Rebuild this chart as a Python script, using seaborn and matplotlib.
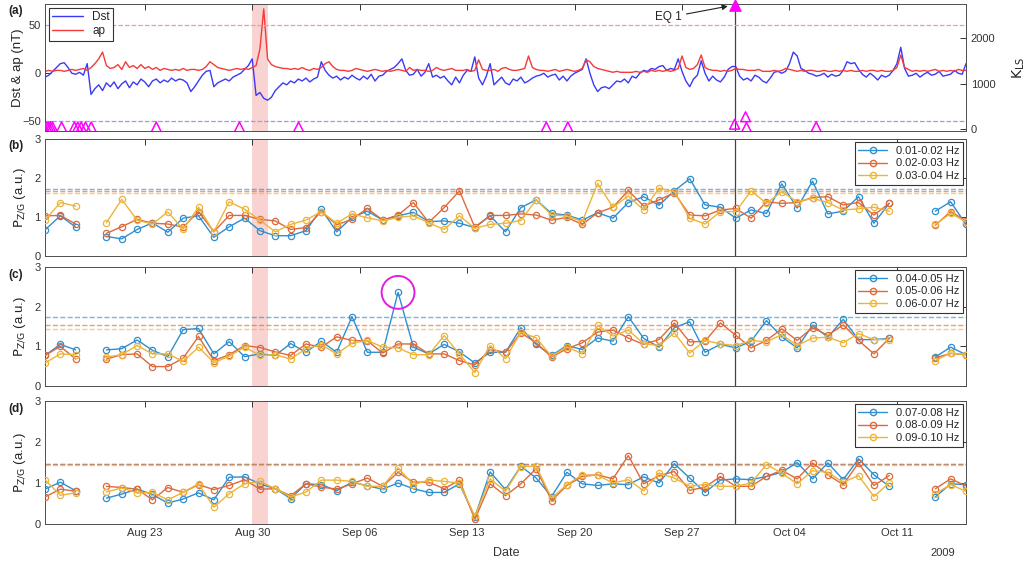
import numpy as np
import pandas as pd
import matplotlib
matplotlib.use('Agg')
import matplotlib.pyplot as plt
import matplotlib.dates as mdates
from matplotlib.lines import Line2D
import seaborn as sns

sns.set_theme(style='white')
plt.rcParams['font.family'] = ['Liberation Sans', 'DejaVu Sans']

# ---------------- data ----------------
start = pd.Timestamp('2009-08-16 12:00')
days = pd.date_range(start, periods=61, freq='D')
times6h = pd.date_range(start, periods=241, freq='6h')

dst = [-4, -2, 2, 6, 10, 11, 6, 0, -1, 1, -2, 10, -22, -16, -12, -18,
       -10, -14, -9, -16, -11, -8, -15, -9, -12, -6, -9, -14, -8, -6, -10, -7,
       -9, -5, -8, -6, -7, -10, -19, -14, -8, -2, 2, 3, -14, -10, -8, -6,
       -8, -4, -2, 0, 4, 8, 15, -23, -20, -26, -28, -25, -18, -14, -10, -12,
       -8, -10, -6, -8, -5, -9, -6, -4, 12, 3, -2, -5, -3, -7, -4, -6,
       -2, -5, -7, -3, -6, -1, -8, -3, -2, 2, 4, 6, 10, 15, 3, -2,
       -1, 4, -3, 1, 10, -4, -2, -5, -3, -8, -12, -4, -10, -2, 3, 2,
       17, -5, -12, -3, 10, -12, -8, -4, -10, -12, -6, -8, -4, -10, -8, -5,
       -3, -2, 0, -4, -2, -1, -7, -3, -8, -3, 0, 2, 4, 15, 0, -12,
       -19, -15, -14, -16, -12, -8, -9, -6, -10, -3, -5, 0, 3, 2, 5, 4,
       7, 8, 3, 5, 4, 15, 2, -8, -14, -6, -2, 13, 0, -8, -3, -7,
       -9, -4, 4, 7, 7, -3, -7, -5, -8, -2, -4, -8, -10, -5, 1, 2,
       0, 2, 10, 22, 18, 5, 3, 0, -1, -3, -2, 0, -4, -1, -3, -2,
       3, 12, 10, 11, 4, -1, -4, 0, -3, -7, -2, -4, -2, 3, 10, 27,
       5, -3, -2, 0, -4, -1, 1, -2, -1, 2, -3, -2, -1, 3, 0, -1, 10]

ap = [2, 3, 2, 3, 3, 2, 3, 4, 3, 4, 5, 3, 6, 10, 15, 22,
      8, 5, 6, 9, 4, 12, 6, 8, 5, 9, 5, 7, 4, 6, 3, 5,
      4, 3, 4, 3, 5, 3, 4, 4, 3, 4, 7, 12, 9, 6, 5, 4,
      3, 4, 5, 4, 5, 4, 6, 8, 25, 67, 15, 9, 7, 6, 5, 5,
      4, 5, 4, 6, 4, 3, 5, 4, 6, 10, 12, 7, 4, 3, 3, 2,
      3, 5, 4, 3, 2, 3, 4, 3, 2, 3, 2, 3, 4, 3, 2, 6,
      3, 4, 3, 3, 2, 3, 6, 4, 3, 4, 5, 3, 3, 3, 4, 2,
      3, 14, 4, 3, 3, 4, 2, 5, 6, 4, 3, 3, 4, 5, 18, 6,
      4, 3, 3, 2, 3, 4, 2, 3, 4, 3, 2, 3, 5, 14, 12, 7,
      5, 4, 3, 2, 1, 2, 1, 1, 1, 1, 2, 1, 2, 1, 3, 2,
      3, 2, 3, 2, 3, 5, 18, 6, 4, 5, 9, 19, 6, 4, 3, 3,
      2, 3, 2, 3, 5, 4, 4, 3, 3, 3, 4, 2, 2, 2, 3, 2,
      3, 5, 4, 3, 2, 3, 2, 3, 3, 2, 2, 3, 2, 2, 3, 2,
      3, 2, 3, 2, 2, 3, 2, 3, 3, 2, 3, 2, 2, 3, 6, 19,
      6, 4, 2, 3, 2, 3, 2, 3, 4, 2, 3, 2, 3, 2, 4, 3, 3]

eq_times = ['2009-08-16 10:00', '2009-08-16 14:30', '2009-08-16 17:30', '2009-08-16 20:40',
            '2009-08-16 23:45', '2009-08-17 14:00', '2009-08-18 10:00', '2009-08-18 15:20',
            '2009-08-18 20:40', '2009-08-19 03:20', '2009-08-19 12:15', '2009-08-23 18:00',
            '2009-08-29 04:00', '2009-09-02 00:30', '2009-09-18 03:50', '2009-09-19 13:30',
            '2009-09-30 10:16', '2009-10-01 03:20', '2009-10-01 04:50', '2009-10-05 17:45']
eq_K = [40, 40, 40, 40, 40, 40, 40, 40, 40, 40, 40, 40, 40, 40, 40, 40, 100, 265, 30, 44]
eq1_time = pd.Timestamp('2009-09-30 10:16')
eq1_K = 2740

storm_start = pd.Timestamp('2009-08-30 00:00')
storm_end = pd.Timestamp('2009-08-31 00:00')

nan = np.nan
p_b = {
    '0.01-0.02 Hz': [0.67, 1.03, 0.74, nan, 0.50, 0.44, 0.68, 0.85, 0.61, 0.97, 1.03, 0.48, 0.75, 0.97, 0.65, 0.52,
                     0.52, 0.65, 1.20, 0.62, 0.99, 1.15, 0.92, 1.03, 1.12, 0.88, 0.90, 0.84, 0.73, 1.03, 0.62, 1.24,
                     1.44, 1.09, 1.05, 0.92, 1.11, 0.97, 1.37, 1.52, 1.30, 1.67, 1.98, 1.31, 1.25, 0.97, 1.18, 1.09,
                     1.85, 1.23, 1.92, 1.08, 1.15, 1.52, 0.84, 1.35, nan, nan, 1.15, 1.39, 0.81],
    '0.02-0.03 Hz': [1.03, 1.04, 0.82, nan, 0.58, 0.75, 0.94, 0.84, 0.82, 0.74, 1.14, 0.62, 1.04, 1.04, 0.94, 0.90,
                     0.68, 0.73, 1.14, 0.80, 0.94, 1.22, 0.92, 1.05, 1.37, 0.86, 1.24, 1.67, 0.74, 1.04, 1.04, 1.08,
                     1.05, 0.92, 0.99, 0.81, 1.11, 1.25, 1.68, 1.28, 1.44, 1.62, 1.05, 1.03, 1.18, 1.22, 0.97, 1.39,
                     1.35, 1.37, 1.50, 1.52, 1.31, 1.37, 1.05, 1.35, nan, nan, 0.79, 1.14, 0.90],
    '0.03-0.04 Hz': [0.92, 1.37, 1.28, nan, 0.85, 1.45, 0.92, 0.82, 1.13, 0.69, 1.25, 0.62, 1.39, 1.20, 0.92, 0.62,
                     0.81, 0.92, 1.14, 0.84, 1.08, 0.98, 0.90, 0.99, 1.03, 0.85, 0.68, 1.03, 0.71, 0.81, 0.84, 0.91,
                     1.44, 1.05, 1.03, 0.88, 1.86, 1.25, 1.54, 1.18, 1.74, 1.65, 0.97, 0.82, 1.14, 1.14, 1.67, 1.35,
                     1.65, 1.39, 1.48, 1.37, 1.18, 1.21, 1.25, 1.15, nan, nan, 0.81, 1.09, 0.88],
}
thr_b = [1.73, 1.66, 1.61]

p_c = {
    '0.04-0.05 Hz': [0.77, 1.05, 0.91, nan, 0.91, 0.94, 1.16, 0.90, 0.74, 1.42, 1.45, 0.81, 1.12, 0.74, 0.81, 0.77,
                     1.07, 0.85, 1.13, 0.85, 1.75, 0.85, 0.85, 2.36, 0.98, 0.81, 1.05, 0.86, 0.58, 0.85, 0.85, 1.47,
                     1.05, 0.77, 1.02, 0.92, 1.21, 1.13, 1.75, 1.20, 0.98, 1.47, 1.62, 0.85, 1.05, 0.96, 1.13, 1.65,
                     1.24, 0.96, 1.53, 1.23, 1.68, 1.17, 1.17, 1.20, nan, nan, 0.73, 0.98, 0.79],
    '0.05-0.06 Hz': [0.77, 1.00, 0.68, nan, 0.68, 0.79, 0.81, 0.49, 0.49, 0.70, 1.25, 0.64, 0.79, 1.02, 0.97, 0.86,
                     0.77, 1.06, 0.98, 1.24, 1.15, 1.14, 0.83, 1.06, 1.06, 0.81, 0.81, 0.64, 0.53, 0.92, 0.85, 1.34,
                     1.09, 0.73, 0.94, 1.09, 1.36, 1.41, 1.21, 1.05, 1.17, 1.59, 1.11, 1.13, 1.59, 1.28, 0.96, 1.15,
                     1.44, 1.15, 1.47, 1.28, 1.54, 1.15, 0.81, 1.20, nan, nan, 0.71, 0.82, 0.79],
    '0.06-0.07 Hz': [0.58, 0.81, 0.79, nan, 0.73, 0.79, 1.02, 0.81, 0.81, 0.62, 0.98, 0.59, 0.75, 0.98, 0.77, 0.79,
                     0.68, 0.94, 1.04, 0.81, 1.08, 1.15, 0.98, 0.96, 0.79, 0.79, 1.27, 0.81, 0.34, 1.02, 0.69, 1.36,
                     1.21, 0.75, 0.99, 0.81, 1.53, 1.26, 1.41, 1.07, 1.02, 1.34, 0.83, 1.15, 1.06, 1.02, 1.15, 1.11,
                     1.30, 1.02, 1.21, 1.23, 1.09, 1.32, 1.17, 1.17, nan, nan, 0.64, 0.83, 0.79],
}
thr_c = [1.74, 1.53, 1.44]

p_d = {
    '0.07-0.08 Hz': [0.85, 1.02, 0.81, nan, 0.63, 0.73, 0.85, 0.72, 0.51, 0.61, 0.76, 0.59, 1.14, 1.15, 0.98, 0.86,
                     0.62, 0.98, 0.96, 0.81, 1.02, 0.93, 0.85, 1.00, 0.86, 0.77, 0.77, 0.98, 0.17, 1.27, 0.84, 1.41,
                     1.12, 0.67, 1.26, 0.98, 0.94, 0.98, 0.96, 1.15, 1.00, 1.47, 1.12, 0.77, 1.07, 1.10, 1.08, 1.16,
                     1.26, 1.50, 1.10, 1.49, 1.08, 1.59, 1.20, 0.92, nan, nan, 0.66, 0.98, 0.96],
    '0.08-0.09 Hz': [0.66, 0.85, 0.80, nan, 0.92, 0.89, 0.85, 0.59, 0.89, 0.77, 0.96, 0.84, 0.94, 1.08, 0.85, 0.86,
                     0.69, 0.98, 0.90, 0.85, 0.98, 1.12, 0.92, 1.26, 1.02, 1.02, 0.86, 1.07, 0.11, 0.98, 0.69, 0.98,
                     1.35, 0.57, 0.94, 1.16, 1.20, 1.10, 1.67, 0.98, 1.18, 1.28, 0.82, 0.90, 1.16, 0.92, 0.92, 1.16,
                     1.31, 1.10, 1.49, 1.20, 0.96, 1.49, 0.94, 1.18, nan, nan, 0.86, 1.10, 0.93],
    '0.09-0.10 Hz': [1.08, 0.70, 0.76, nan, 0.78, 0.88, 0.76, 0.77, 0.59, 0.77, 0.98, 0.41, 0.74, 0.98, 1.04, 0.86,
                     0.66, 0.78, 1.07, 1.07, 1.04, 0.92, 0.92, 1.37, 0.96, 1.07, 1.04, 1.00, 0.19, 1.10, 0.80, 1.40,
                     1.41, 0.63, 0.96, 1.20, 1.19, 1.00, 1.08, 0.81, 1.24, 1.12, 0.92, 0.96, 0.92, 0.92, 1.00, 1.45,
                     1.24, 0.98, 1.30, 1.26, 1.02, 1.18, 0.67, 1.00, nan, nan, 0.74, 0.96, 0.80],
}
thr_d = [1.47, 1.47, 1.44]

band_colors = ['#2f8fd0', '#dd6a3c', '#edb43a']
highlight_idx = 23

# ---------------- figure ----------------
fig = plt.figure(figsize=(10.27, 5.67), dpi=100)
L, W = 45 / 1027, 921 / 1027
def box(top_px, bot_px):
    return [L, 1 - bot_px / 567, W, (bot_px - top_px) / 567]

axa = fig.add_axes(box(4, 131))
axb = fig.add_axes(box(139, 256))
axc = fig.add_axes(box(267, 386))
axd = fig.add_axes(box(401, 524))

edge = '#4d4d4d'
xlim = (days[0], days[-1])
xt = pd.date_range('2009-08-23', periods=8, freq='7D')

def style_ax(ax, right=True, labels=False):
    ax.set_xlim(*xlim)
    ax.set_xticks(xt)
    ax.xaxis.set_major_formatter(mdates.DateFormatter('%b %d'))
    ax.tick_params(direction='in', length=4, width=0.7, top=True, right=right,
                   colors='#333333', labelsize=8, pad=3)
    if not labels:
        ax.tick_params(labelbottom=False)
    for s in ax.spines.values():
        s.set_color(edge)
        s.set_linewidth(0.7)
    ax.set_xlabel('')
    ax.axvspan(storm_start, storm_end, color='#f7c3c3', alpha=0.75, lw=0, zorder=0)
    ax.axvline(eq1_time, color='#444444', lw=0.9, zorder=1)

# panel (a)
sns.lineplot(x=times6h, y=dst, ax=axa, color='#3a3af5', lw=1, label='Dst')
sns.lineplot(x=times6h, y=ap, ax=axa, color='#f53a3a', lw=1, label='ap')
axa.axhline(50, color='#f59a9a', ls='--', lw=0.9)
axa.axhline(-50, color='#9a9af5', ls='--', lw=0.9)
axa.set_ylim(-60, 72)
axa.set_yticks([-50, 0, 50])
style_ax(axa, right=False)
axa.set_ylabel('Dst & ap (nT)', fontsize=9.5, color='#222222')
axa.yaxis.set_label_coords(-0.023, 0.5)
leg = axa.legend(loc='upper left', fontsize=8.5, frameon=True, fancybox=False,
                 edgecolor='#333333', framealpha=1, borderaxespad=0.3, handlelength=2.6,
                 borderpad=0.3, labelspacing=0.2)
leg.get_frame().set_linewidth(0.8)

axk = axa.twinx()
sns.scatterplot(x=pd.to_datetime(eq_times), y=eq_K, ax=axk, marker='^', s=50,
                color='magenta', linewidth=1.1, zorder=5)
axk.collections[-1].set_facecolor('none')
axk.collections[-1].set_edgecolor('magenta')
sns.scatterplot(x=[eq1_time], y=[eq1_K], ax=axk, marker='^', s=70, color='magenta',
                edgecolor='magenta', zorder=6, clip_on=False)
axk.set_ylim(-50, 2760)
axk.set_yticks([0, 1000, 2000])
axk.set_xlim(*xlim)
axk.tick_params(direction='in', length=4, width=0.7, colors='#333333', labelsize=8)
for s in axk.spines.values():
    s.set_visible(False)
axk.set_ylabel(r'$\mathrm{K_{LS}}$', fontsize=10, color='#222222')
axk.yaxis.set_label_coords(1.048, 0.5)
axk.annotate('EQ 1', xy=(eq1_time, eq1_K), xytext=(-38, -9), textcoords='offset points',
             ha='right', va='center', fontsize=8.5, color='#222222',
             arrowprops=dict(arrowstyle='-|>', color='#222222', lw=0.8,
                             shrinkA=1, shrinkB=5, mutation_scale=8))

# panels (b)-(d)
def band_panel(ax, pdict, thr):
    handles = []
    for (name, vals), c, t in zip(pdict.items(), band_colors, thr):
        v = np.array(vals, dtype=float)
        seg = np.cumsum(np.isnan(v))
        df = pd.DataFrame({'date': days, 'value': v, 'seg': seg}).dropna()
        sns.lineplot(data=df, x='date', y='value', units='seg', estimator=None, ax=ax,
                     color=c, lw=1, marker='o', markersize=4.5, markerfacecolor='none',
                     markeredgecolor=c, markeredgewidth=0.9, zorder=3)
        ax.axhline(t, color=c, ls='--', lw=1, alpha=0.65, zorder=2)
        handles.append(Line2D([], [], color=c, lw=1, marker='o', markersize=4.5,
                              markerfacecolor='none', markeredgecolor=c, label=name))
    ax.set_ylim(0, 3)
    ax.set_yticks([0, 1, 2, 3])
    ax.set_ylabel(r'$\mathrm{P_{Z/G}}$ (a.u.)', fontsize=9.5, color='#222222')
    ax.yaxis.set_label_coords(-0.018, 0.5)
    lg = ax.legend(handles=handles, loc='upper right', fontsize=8, frameon=True, fancybox=False,
                   edgecolor='#333333', framealpha=1, borderaxespad=0.3, handlelength=2.6,
                   borderpad=0.3, labelspacing=0.25)
    lg.get_frame().set_linewidth(0.8)

band_panel(axb, p_b, thr_b)
style_ax(axb)
band_panel(axc, p_c, thr_c)
style_ax(axc)
hv = list(p_c.values())[0][highlight_idx]
sns.scatterplot(x=[days[highlight_idx]], y=[hv], ax=axc, marker='o', s=560,
                color='magenta', linewidth=1.4, zorder=6)
axc.collections[-1].set_facecolor('none')
axc.collections[-1].set_edgecolor('#e020e0')
band_panel(axd, p_d, thr_d)
style_ax(axd, labels=True)

# panel letters and bottom labels
for lab, ypx in zip(['(a)', '(b)', '(c)', '(d)'], [11, 146, 275, 409]):
    fig.text(8 / 1027, 1 - ypx / 567, lab, fontsize=8.5, fontweight='bold', va='center',
             color='#222222')
fig.text(506 / 1027, 1 - 553 / 567, 'Date', fontsize=9, ha='center', va='center', color='#333333')
fig.text(943 / 1027, 1 - 553 / 567, '2009', fontsize=8, ha='center', va='center', color='#333333')

fig.savefig('out.png', dpi=100)
